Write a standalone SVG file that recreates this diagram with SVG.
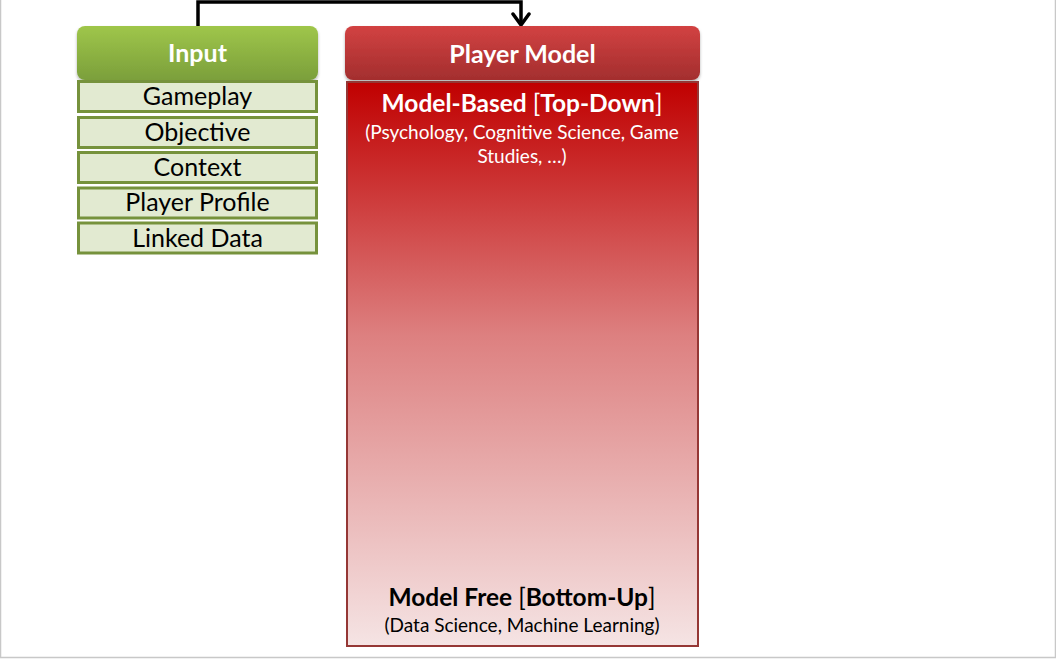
<svg xmlns="http://www.w3.org/2000/svg" width="1056" height="659" viewBox="0 0 1056 659">
<defs>
<linearGradient id="gIn" x1="0" y1="0" x2="0" y2="1"><stop offset="0" stop-color="#9fc64a"/><stop offset="1" stop-color="#7b9f3b"/></linearGradient>
<linearGradient id="gPm" x1="0" y1="0" x2="0" y2="1"><stop offset="0" stop-color="#d24242"/><stop offset="1" stop-color="#a32e2e"/></linearGradient>
<linearGradient id="gBody" x1="0" y1="0" x2="0" y2="1"><stop offset="0" stop-color="#c00000"/><stop offset="0.45" stop-color="#dd8080"/><stop offset="1" stop-color="#f5e4e4"/></linearGradient>
<marker id="arr" viewBox="0 0 20 20" refX="18" refY="10" markerWidth="20" markerHeight="20" markerUnits="userSpaceOnUse" orient="auto">
<path d="M7 2 L18 10 L7 18" fill="none" stroke="#000" stroke-width="3.5" stroke-linecap="round" stroke-linejoin="round"/>
</marker>
<filter id="sh" x="-5%" y="-5%" width="110%" height="120%"><feDropShadow dx="0" dy="2" stdDeviation="1.5" flood-color="#000" flood-opacity="0.3"/></filter>
</defs>
<style>
.item rect{fill:#e2ead1;stroke:#76923c;stroke-width:3}
.item text{font-family:Lato,"Open Sans",sans-serif;font-size:25px;fill:#000;text-anchor:middle}
.hdr{font-family:Lato,"Open Sans",sans-serif;font-size:25px;font-weight:bold;fill:#fff;text-anchor:middle}
.t{font-family:Lato,"Open Sans",sans-serif;text-anchor:middle}
</style>
<rect width="1056" height="659" fill="#fff"/>
<path d="M0.5 0 V657.5 H1055.5 V0" fill="none" stroke="#c8c8c8" stroke-width="1.5"/>
<g id="connectors">
<path d="M198 26 V2 H521 V25" fill="none" stroke="#000" stroke-width="3.5" marker-end="url(#arr)"/>
</g>
<g id="input">
<rect x="77" y="26" width="241" height="54" rx="8" fill="url(#gIn)" filter="url(#sh)"/>
<text class="hdr" x="197.5" y="62">Input</text>
</g>
<g id="gameplay" class="item"><rect x="78.5" y="81.5" width="238" height="30"/><text x="197.5" y="105">Gameplay</text></g>
<g id="objective" class="item"><rect x="78.5" y="117.5" width="238" height="30"/><text x="197.5" y="141">Objective</text></g>
<g id="context" class="item"><rect x="78.5" y="152.5" width="238" height="30"/><text x="197.5" y="176">Context</text></g>
<g id="player-profile" class="item"><rect x="78.5" y="188" width="238" height="30"/><text x="197.5" y="211">Player Profile</text></g>
<g id="linked-data" class="item"><rect x="78.5" y="223" width="238" height="30"/><text x="197.5" y="247">Linked Data</text></g>
<g id="player-model">
<rect x="345" y="26" width="355" height="54" rx="8" fill="url(#gPm)" filter="url(#sh)"/>
<text class="hdr" x="522.5" y="63">Player Model</text>
<rect x="347" y="82" width="351" height="564" fill="url(#gBody)" stroke="#953735" stroke-width="2"/>
<text class="t" x="522" y="112" font-size="24.5" fill="#fff"><tspan font-weight="bold">Model-Based </tspan><tspan>[</tspan><tspan font-weight="bold">Top-Down</tspan><tspan>]</tspan></text>
<text class="t" x="522" y="139" font-size="19" fill="#fff">(Psychology, Cognitive Science, Game</text>
<text class="t" x="522" y="163" font-size="19" fill="#fff">Studies, …)</text>
<text class="t" x="522" y="606" font-size="24.5" fill="#000"><tspan font-weight="bold">Model Free </tspan><tspan>[</tspan><tspan font-weight="bold">Bottom-Up</tspan><tspan>]</tspan></text>
<text class="t" x="522" y="632" font-size="19" fill="#000">(Data Science, Machine Learning)</text>
</g>
</svg>
